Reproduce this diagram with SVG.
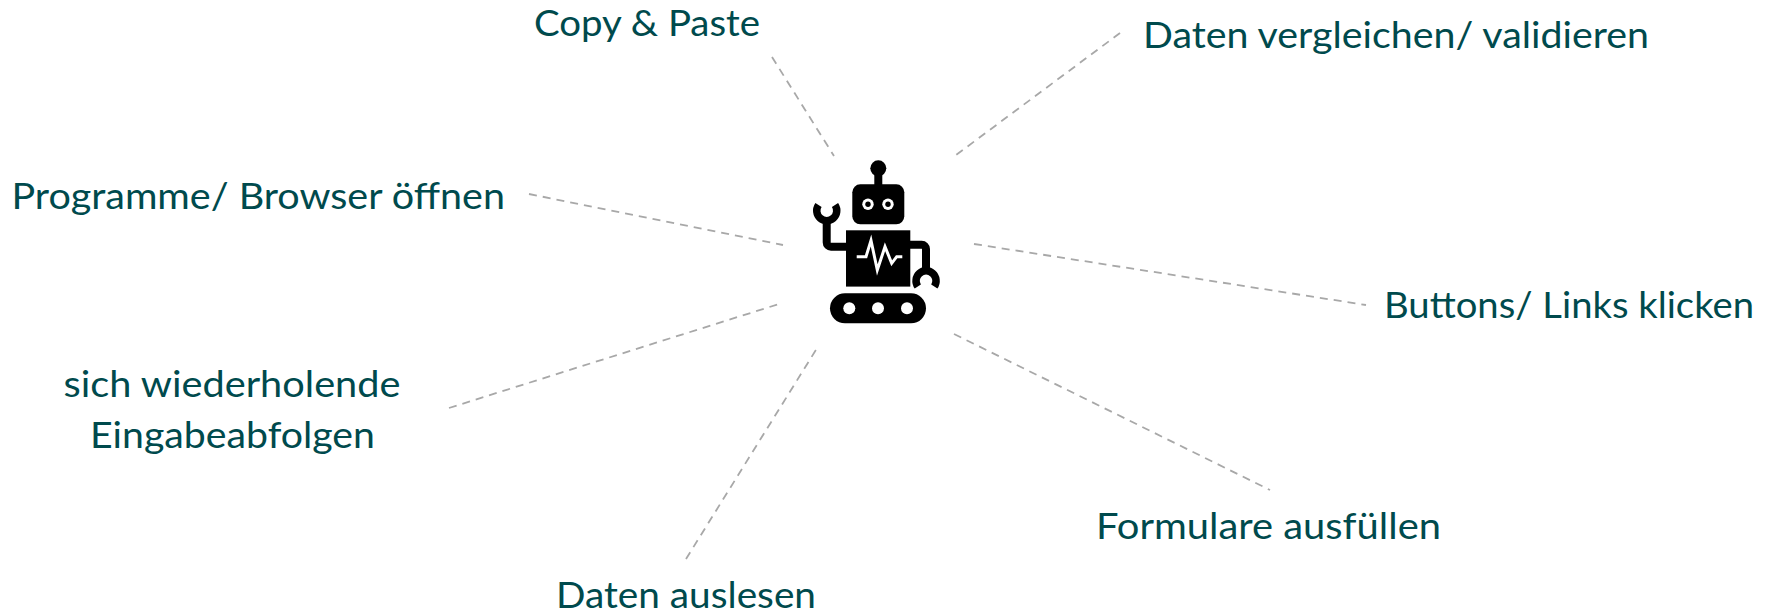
<svg xmlns="http://www.w3.org/2000/svg" width="1775" height="612" viewBox="0 0 1775 612">
<style>
.l{font-family:"Lato","Open Sans",sans-serif;font-size:37px;fill:#004a4d}
.c{fill:none;stroke:#a8a8a8;stroke-width:1.800;stroke-dasharray:8 6}
.k{fill:#000}
.w{fill:#fff}
.s{fill:none;stroke:#000;stroke-width:8;stroke-linejoin:round}
</style>
<rect width="1775" height="612" fill="#fff"/>
<g id="connectors">
<line class="c" x1="772" y1="57" x2="834" y2="156"/>
<line class="c" x1="1120" y1="33" x2="952" y2="158"/>
<line class="c" x1="529" y1="194" x2="783" y2="245"/>
<line class="c" x1="974" y1="244" x2="1366" y2="305"/>
<line class="c" x1="449" y1="408" x2="779" y2="304"/>
<line class="c" x1="954" y1="334" x2="1270" y2="490"/>
<line class="c" x1="686" y1="559" x2="819" y2="345"/>
</g>
<g id="robot">
<circle class="k" cx="878.300" cy="168.300" r="8"/>
<rect class="k" x="874.300" y="170" width="8" height="18"/>
<rect class="k" x="852.300" y="184.300" width="52" height="40" rx="8"/>
<circle class="w" cx="868" cy="204.300" r="5.700"/><circle class="k" cx="868" cy="204.300" r="2.700"/>
<circle class="w" cx="888" cy="204.300" r="5.700"/><circle class="k" cx="888" cy="204.300" r="2.700"/>
<rect class="k" x="846" y="230.300" width="64.300" height="56.300"/>
<path class="s" d="M848 246.700H831a4.300 4.300 0 0 1-4.300-4.300V220"/>
<path class="s" d="M908 244.700H921.700a4.300 4.300 0 0 1 4.300 4.300V270"/>
<path d="M818.500 205a10 10 0 1 0 16.500 0" fill="none" stroke="#000" stroke-width="7.500"/>
<path d="M917.800 286.500a10 10 0 1 1 16.500 0" fill="none" stroke="#000" stroke-width="7.500"/>
<polyline points="856.700,256.700 866,256.700 871,240.500 877.300,270 885,246.700 891.700,263.300 896.700,256.700 902.300,256.700" fill="none" stroke="#fff" stroke-width="3"/>
<rect class="k" x="830" y="293.300" width="96" height="30" rx="15"/>
<circle class="w" cx="849.300" cy="308.300" r="6"/>
<circle class="w" cx="878" cy="308.300" r="6"/>
<circle class="w" cx="907" cy="308.300" r="6"/>
</g>
<g id="n1"><text class="l" x="534" y="36" textLength="226" lengthAdjust="spacingAndGlyphs">Copy &amp; Paste</text></g>
<g id="n2"><text class="l" x="1143" y="48" textLength="506" lengthAdjust="spacingAndGlyphs">Daten vergleichen/ validieren</text></g>
<g id="n3"><text class="l" x="11.500" y="209" textLength="493.500" lengthAdjust="spacingAndGlyphs">Programme/ Browser öffnen</text></g>
<g id="n4"><text class="l" x="1384" y="318" textLength="370" lengthAdjust="spacingAndGlyphs">Buttons/ Links klicken</text></g>
<g id="n5"><text class="l" x="63.500" y="397" textLength="337" lengthAdjust="spacingAndGlyphs">sich wiederholende</text><text class="l" x="90" y="448" textLength="285" lengthAdjust="spacingAndGlyphs">Eingabeabfolgen</text></g>
<g id="n6"><text class="l" x="1096" y="539" textLength="345" lengthAdjust="spacingAndGlyphs">Formulare ausfüllen</text></g>
<g id="n7"><text class="l" x="556" y="608" textLength="260" lengthAdjust="spacingAndGlyphs">Daten auslesen</text></g>
</svg>
